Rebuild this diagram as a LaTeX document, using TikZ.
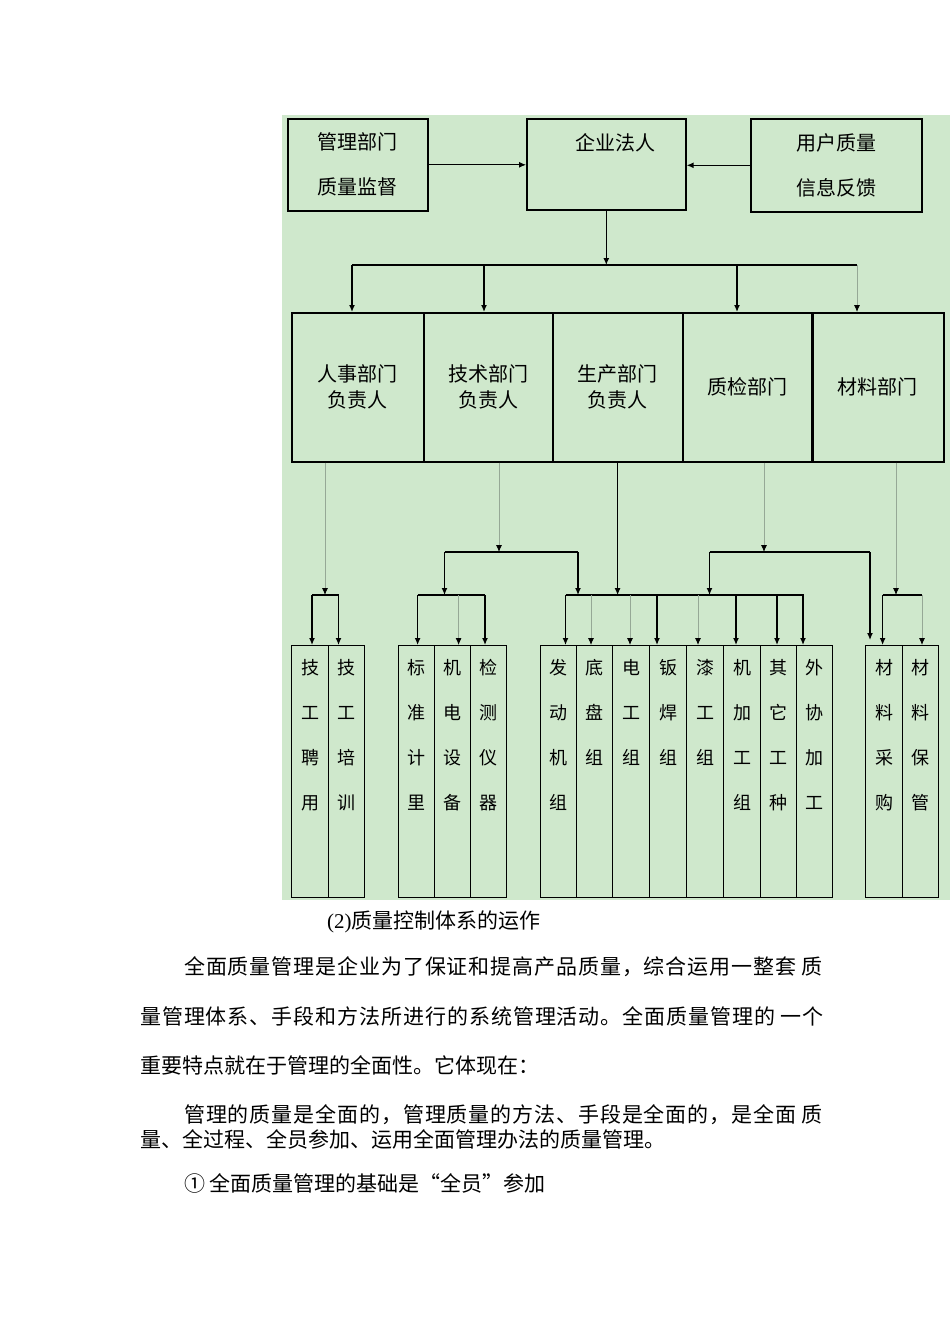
\documentclass[tikz,border=0pt]{standalone}
\usepackage{fontspec}
\setmainfont{Liberation Serif}
\newfontfamily\cjk{Noto Sans CJK SC}
\usetikzlibrary{arrows.meta}
\definecolor{bggreen}{RGB}{207,232,204}
\definecolor{lightline}{RGB}{150,168,150}
\def\spreadcj#1{\ifx#1\relax\else\hfil#1\expandafter\spreadcj\fi}
\begin{document}
\begin{tikzpicture}[x=1pt,y=-1pt,
  box/.style={draw=black,line width=1.6pt,inner sep=0pt,anchor=north west,align=center,
              font=\cjk\fontsize{20}{45}\selectfont},
  midbox/.style={box,minimum height=149pt,font=\cjk\fontsize{20}{26}\selectfont},
  lbl/.style={inner sep=0pt,font=\cjk\fontsize{20}{24}\selectfont},
  colbox/.style={draw=black,line width=1.4pt,inner sep=0pt,anchor=north west,minimum height=252pt},
  coltext/.style={inner sep=0pt,anchor=north,align=center,font=\cjk\fontsize{18}{45}\selectfont},
  para/.style={inner sep=0pt,anchor=west,font=\cjk\fontsize{21}{21}\selectfont},
  blkline/.style={draw=black,line width=1.3pt},
  lightln/.style={draw=lightline,line width=0.9pt},
  arrowhd/.style={-{Latex[length=7pt,width=6pt,color=black]}}]
\useasboundingbox (0,0) rectangle (950,1344);
\fill[white] (0,0) rectangle (950,1344);
\fill[bggreen] (282,115) rectangle (950,900);

% top row
\node[box,minimum width=140pt,minimum height=92pt] (guanli) at (287,118) {管理部门\\质量监督};
\node[box,minimum width=159pt,minimum height=91pt] (qiye) at (526,118) {};
\node[lbl] (qiyet) at (615,143) {企业法人};
\node[box,minimum width=171pt,minimum height=93pt] (yonghu) at (750,118) {用户质量\\信息反馈};

\draw[arrowhd,draw=black,line width=0.9pt] (guanli.east) -- (guanli.east -| qiye.west);
\draw[arrowhd,blkline] (yonghu.west) -- (yonghu.west -| qiye.east);

% middle row
\node[midbox,minimum width=132pt] (renshi) at (291,312) {人事部门\\负责人};
\node[midbox,minimum width=129pt] (jishu) at (423,312) {技术部门\\负责人};
\node[midbox,minimum width=130pt] (shengchan) at (552,312) {生产部门\\负责人};
\node[midbox,minimum width=130pt] (zhijian) at (682,312) {质检部门};
\node[midbox,minimum width=132pt] (cailiao) at (811,312) {材料部门};

\coordinate (b1L) at (352,265); \coordinate (b1R) at (857,265);
\coordinate (b1a) at (484,265); \coordinate (b1b) at (737,265);
\draw[arrowhd,blkline] (qiye.south) -- (qiye.south |- b1L);
\draw[blkline] (b1L) -- (b1R);
\draw[arrowhd,blkline] (b1L) -- (b1L |- renshi.north);
\draw[arrowhd,blkline] (b1a) -- (b1a |- renshi.north);
\draw[arrowhd,blkline] (b1b) -- (b1b |- renshi.north);
\draw[arrowhd,lightln] (b1R) -- (b1R |- renshi.north);

% bottom columns
\foreach \n/\x/\w/\t in {
  c11/291/37/{技\\工\\聘\\用}, c12/328/36/{技\\工\\培\\训},
  c21/398/36/{标\\准\\计\\里}, c22/434/36/{机\\电\\设\\备}, c23/470/36/{检\\测\\仪\\器},
  c31/540/36/{发\\动\\机\\组}, c32/576/36/{底\\盘\\组}, c33/612/37/{电\\工\\组},
  c34/649/37/{钣\\焊\\组}, c35/686/37/{漆\\工\\组}, c36/723/37/{机\\加\\工\\组},
  c37/760/36/{其\\它\\工\\种}, c38/796/36/{外\\协\\加\\工},
  c41/865/37/{材\\料\\采\\购}, c42/902/36/{材\\料\\保\\管}} {
  \node[colbox,minimum width=\w pt] (\n) at (\x,645) {};
  \node[coltext] (t\n) at ([yshift=-14pt]\n.north) {\t};
}

% renshi branch
\coordinate (rd) at (325,595);
\coordinate (g1L) at (312,595); \coordinate (g1R) at (338.5,595);
\draw[arrowhd,lightln] (rd |- renshi.south) -- (rd);
\draw[blkline] (g1L) -- (g1R);
\draw[arrowhd,blkline] (g1L) -- (g1L |- c11.north);
\draw[arrowhd,blkline] (g1R) -- (g1R |- c12.north);

% jishu branch
\coordinate (jd) at (499,552); \coordinate (jL) at (444.5,552); \coordinate (jR) at (578,552);
\coordinate (g2L) at (417.6,595); \coordinate (g2M) at (458.6,595); \coordinate (g2R) at (485,595);
\draw[arrowhd,lightln] (jd |- jishu.south) -- (jd);
\draw[blkline] (jL) -- (jR);
\draw[arrowhd,blkline] (jL) -- (jL |- g2L);
\draw[blkline] (g2L) -- (g2R);
\draw[arrowhd,blkline] (g2L) -- (g2L |- c21.north);
\draw[arrowhd,lightln] (g2M) -- (g2M |- c22.north);
\draw[arrowhd,blkline] (g2R) -- (g2R |- c23.north);

% production bar
\coordinate (g3L) at (565.5,595); \coordinate (g3R) at (804,595);
\coordinate (sd) at (617.6,595);
\draw[arrowhd,blkline] (jR) -- (jR |- g3L);
\draw[arrowhd,draw=black,line width=1pt] (sd |- shengchan.south) -- (sd);
\draw[blkline] (g3L) -- (g3R);
\foreach \x/\s in {565.5/blkline,591/lightln,630/lightln,657/blkline,698/lightln,736/blkline,777/blkline,803/blkline} {
  \coordinate (dd) at (\x,595);
  \draw[arrowhd,\s] (dd) -- (dd |- c31.north);
}

% zhijian branch
\coordinate (zd) at (764,552); \coordinate (zL) at (709.5,552); \coordinate (zR) at (870,552);
\draw[arrowhd,lightln] (zd |- zhijian.south) -- (zd);
\draw[blkline] (zL) -- (zR);
\draw[arrowhd,blkline] (zL) -- (zL |- g3L);
\coordinate (zE) at (870,640);
\draw[arrowhd,blkline] (zR) -- (zE);

% cailiao branch
\coordinate (cd) at (896,595);
\coordinate (g4L) at (882.6,595); \coordinate (g4R) at (922,595);
\draw[arrowhd,lightln] (cd |- cailiao.south) -- (cd);
\draw[blkline] (g4L) -- (g4R);
\draw[arrowhd,blkline] (g4L) -- (g4L |- c41.north);
\draw[arrowhd,lightln] (g4R) -- (g4R |- c42.north);

% text below
\node[para] (p1) at (327,921.5) {\rmfamily(2)\cjk 质量控制体系的运作};
\node[para] (p2) at (184,966.5) {\makebox[638pt][s]{全\spreadcj 面质量管理是企业为了保证和提高产品质量，综合运用一整套\relax\hspace{4pt}\spreadcj 质\relax}};
\node[para] (p3) at (140,1016) {\makebox[683pt][s]{量\spreadcj 管理体系、手段和方法所进行的系统管理活动。全面质量管理的\relax\hspace{4pt}\spreadcj 一个\relax}};
\node[para] (p4) at (140,1065) {重要特点就在于管理的全面性。它体现在：};
\node[para] (p5) at (184,1115) {\makebox[638pt][s]{管\spreadcj 理的质量是全面的，管理质量的方法、手段是全面的，是全面\relax\hspace{4pt}\spreadcj 质\relax}};
\node[para] (p6) at (140,1139) {量、全过程、全员参加、运用全面管理办法的质量管理。};
\node[para] (p7) at (184,1183) {① 全面质量管理的基础是“全员”参加};
\end{tikzpicture}
\end{document}
